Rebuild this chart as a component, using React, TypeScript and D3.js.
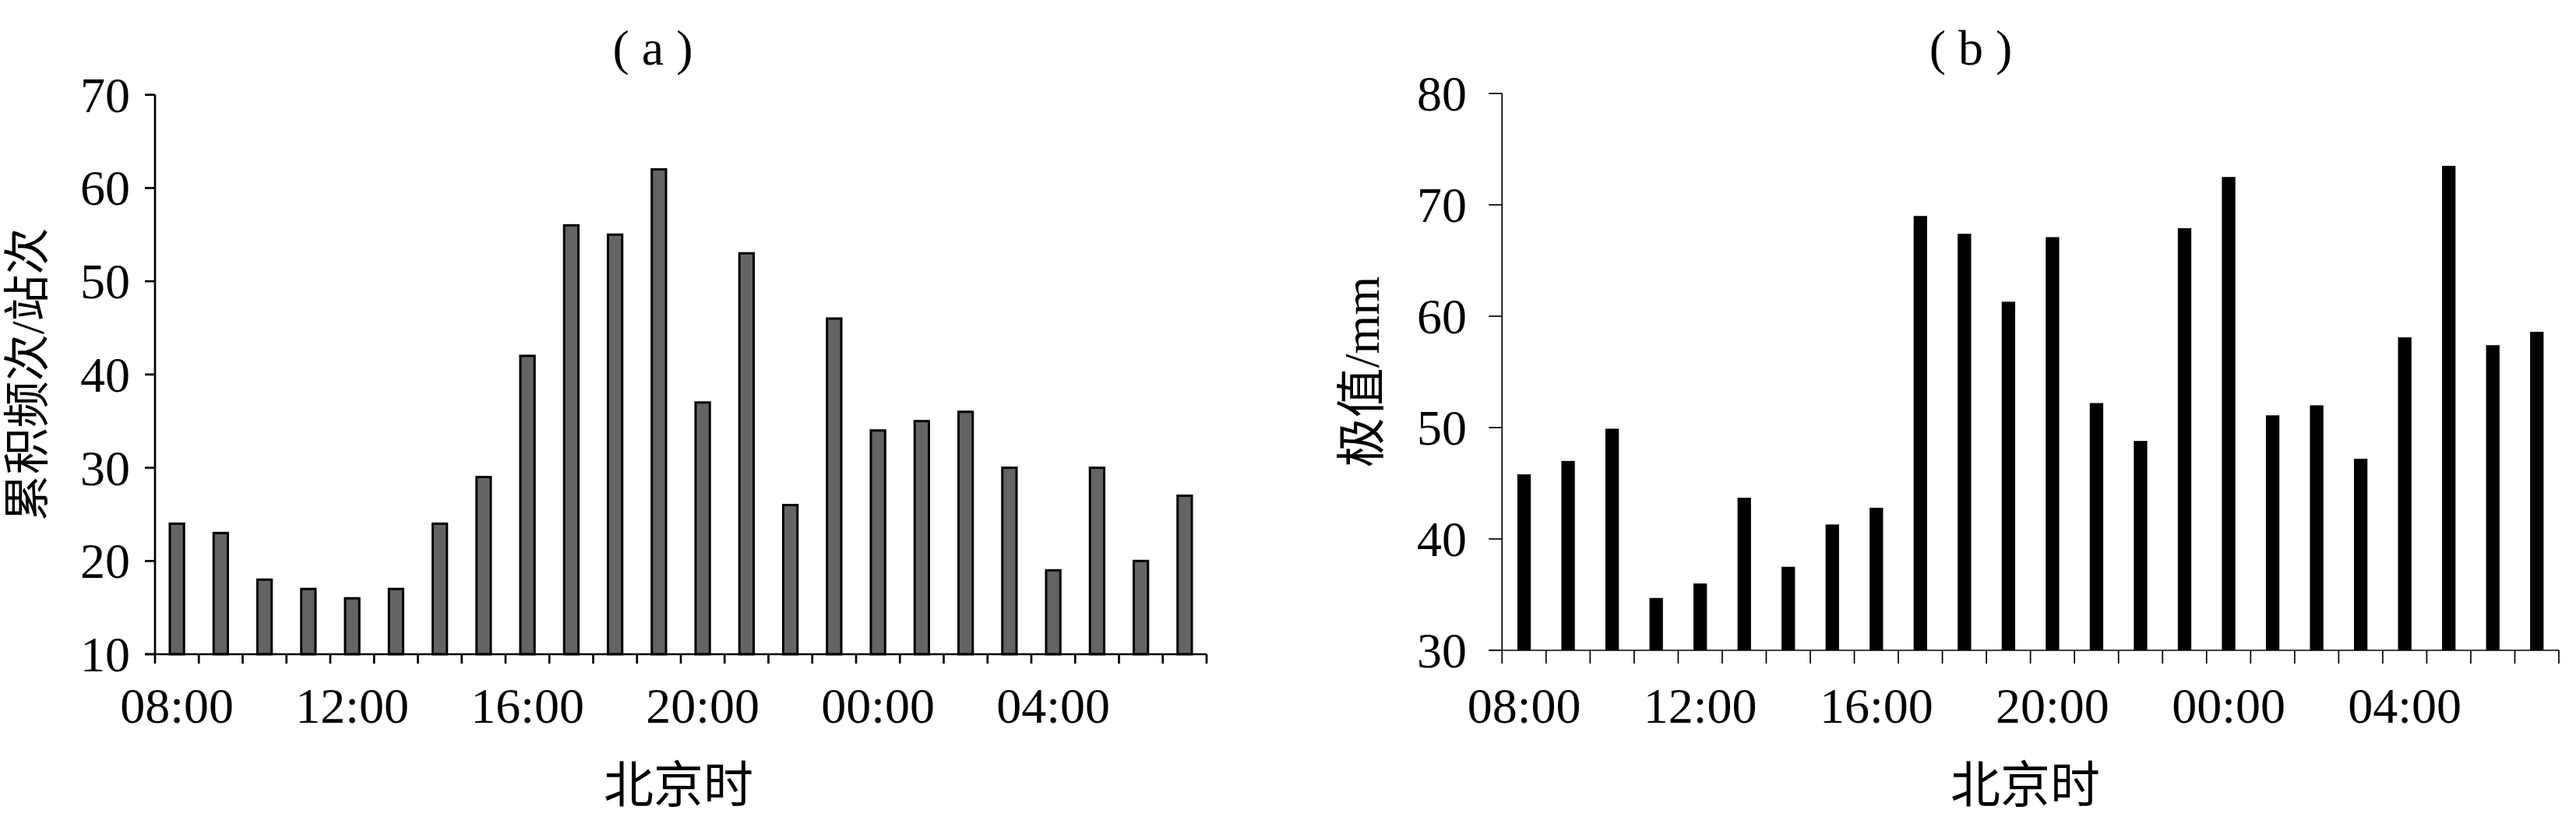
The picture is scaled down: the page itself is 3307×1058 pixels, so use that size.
import React, { useRef, useEffect } from 'react';
import * as d3 from 'd3';

const hours = [
  '08:00', '09:00', '10:00', '11:00', '12:00', '13:00', '14:00', '15:00',
  '16:00', '17:00', '18:00', '19:00', '20:00', '21:00', '22:00', '23:00',
  '00:00', '01:00', '02:00', '03:00', '04:00', '05:00', '06:00', '07:00',
];
const shownHours = ['08:00', '12:00', '16:00', '20:00', '00:00', '04:00'];

// (a) 累积频次/站次
const countValues = [24, 23, 18, 17, 16, 17, 24, 29, 42, 56, 55, 62, 37, 53, 26, 46, 34, 35, 36, 30, 19, 30, 20, 27];
const countTicks = [10, 20, 30, 40, 50, 60, 70];

// (b) 极值/mm
const extremeValues = [
  45.8, 47.0, 49.9, 34.7, 36.0, 43.7, 37.5, 41.3, 42.8, 69.0, 67.4, 61.3,
  67.1, 52.2, 48.8, 67.9, 72.5, 51.1, 52.0, 47.2, 58.1, 73.5, 57.4, 58.6,
];
const extremeTicks = [30, 40, 50, 60, 70, 80];

const FONT = "'Liberation Serif', 'Times New Roman', 'Noto Sans CJK SC', serif";

interface PanelOpts {
  title: string;
  yLabel: string;
  values: number[];
  ticks: number[];
  left: number;
  right: number;
  top: number;
  bottom: number;
  axisWidth: number;
  yTickLen: number;
  xTickLen: number;
  fill: string;
  stroke: string;
  strokeWidth: number;
  barRatio: number;
  labelRight: number;
  titleX: number;
  xTitleX: number;
  yTitleX: number;
  yTitleSize: number;
}

const App: React.FC = () => {
  const svgRef = useRef<SVGSVGElement | null>(null);

  useEffect(() => {
    if (!svgRef.current) return;
    const svg = d3.select(svgRef.current);
    svg.selectAll('*').remove();

    const drawPanel = (o: PanelOpts) => {
      const g = svg.append('g');
      const x = d3.scaleBand<string>().domain(hours).range([o.left, o.right]).padding(0);
      const y = d3
        .scaleLinear()
        .domain([o.ticks[0], o.ticks[o.ticks.length - 1]])
        .range([o.bottom, o.top]);
      const step = x.step();
      const bw = step * o.barRatio;

      // bars
      g.selectAll('rect.bar')
        .data(o.values)
        .enter()
        .append('rect')
        .attr('class', 'bar')
        .attr('x', (d, i) => (x(hours[i]) as number) + step / 2 - bw / 2)
        .attr('y', (d) => y(d))
        .attr('width', bw)
        .attr('height', (d) => o.bottom - y(d))
        .attr('fill', o.fill)
        .attr('stroke', o.stroke)
        .attr('stroke-width', o.strokeWidth);

      // y axis
      g.append('line')
        .attr('x1', o.left).attr('x2', o.left)
        .attr('y1', o.top).attr('y2', o.bottom)
        .attr('stroke', '#000').attr('stroke-width', o.axisWidth);
      g.selectAll('line.ytick')
        .data(o.ticks)
        .enter()
        .append('line')
        .attr('class', 'ytick')
        .attr('x1', o.left - o.yTickLen).attr('x2', o.left)
        .attr('y1', (d) => y(d)).attr('y2', (d) => y(d))
        .attr('stroke', '#000').attr('stroke-width', o.axisWidth);
      g.selectAll('text.ylab')
        .data(o.ticks)
        .enter()
        .append('text')
        .attr('class', 'ylab')
        .attr('x', o.labelRight)
        .attr('y', (d) => y(d) + 22)
        .attr('text-anchor', 'end')
        .attr('font-family', FONT)
        .attr('font-size', 64)
        .text((d) => d);

      // x axis
      g.append('line')
        .attr('x1', o.left - o.yTickLen).attr('x2', o.right)
        .attr('y1', o.bottom).attr('y2', o.bottom)
        .attr('stroke', '#000').attr('stroke-width', o.axisWidth);
      const bounds = hours.map((h) => x(h) as number).concat([o.right]);
      g.selectAll('line.xtick')
        .data(bounds)
        .enter()
        .append('line')
        .attr('class', 'xtick')
        .attr('x1', (d) => d).attr('x2', (d) => d)
        .attr('y1', o.bottom).attr('y2', o.bottom + o.xTickLen)
        .attr('stroke', '#000').attr('stroke-width', o.axisWidth);
      g.selectAll('text.xlab')
        .data(shownHours)
        .enter()
        .append('text')
        .attr('class', 'xlab')
        .attr('x', (d) => (x(d) as number) + step / 2)
        .attr('y', 928)
        .attr('text-anchor', 'middle')
        .attr('font-family', FONT)
        .attr('font-size', 64)
        .text((d) => d);

      // titles
      g.append('text')
        .attr('x', o.titleX)
        .attr('y', 83)
        .attr('text-anchor', 'middle')
        .attr('font-family', FONT)
        .attr('font-size', 64)
        .text(o.title);
      g.append('text')
        .attr('x', o.xTitleX)
        .attr('y', 1030)
        .attr('text-anchor', 'middle')
        .attr('font-family', FONT)
        .attr('font-size', 64)
        .text('北京时');
      g.append('text')
        .attr('transform', `translate(${o.yTitleX}, ${(o.top + o.bottom) / 2}) rotate(-90)`)
        .attr('text-anchor', 'middle')
        .attr('dominant-baseline', 'central')
        .attr('font-family', FONT)
        .attr('font-size', o.yTitleSize)
        .text(o.yLabel);
    };

    drawPanel({
      title: '( a )',
      yLabel: '累积频次/站次',
      values: countValues,
      ticks: countTicks,
      left: 199, right: 1549, top: 121.7, bottom: 840,
      axisWidth: 2.7, yTickLen: 13, xTickLen: 12,
      fill: '#646464', stroke: '#000', strokeWidth: 3, barRatio: 0.325,
      labelRight: 167, titleX: 838, xTitleX: 871, yTitleX: 36, yTitleSize: 60,
    });

    drawPanel({
      title: '( b )',
      yLabel: '极值/mm',
      values: extremeValues,
      ticks: extremeTicks,
      left: 1928.3, right: 3285, top: 120, bottom: 835,
      axisWidth: 1.7, yTickLen: 17, xTickLen: 17,
      fill: '#000', stroke: 'none', strokeWidth: 0, barRatio: 0.306,
      labelRight: 1883, titleX: 2530, xTitleX: 2600, yTitleX: 1748, yTitleSize: 64,
    });
  }, []);

  return (
    <svg
      ref={svgRef}
      width={3307}
      height={1058}
      style={{ position: 'absolute', left: 0, top: 0, display: 'block', background: '#fff' }}
    />
  );
};

export default App;
